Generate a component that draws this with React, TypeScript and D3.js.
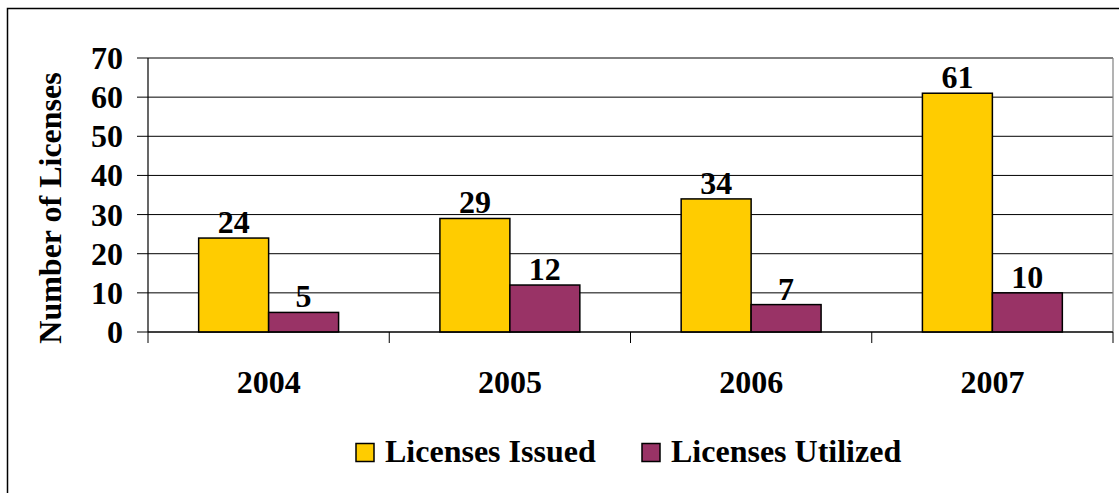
import React from "react";
import * as d3 from "d3";

const categories = ["2004", "2005", "2006", "2007"];
const seriesNames = ["Licenses Issued", "Licenses Utilized"];
const issued = [24, 29, 34, 61];
const utilized = [5, 12, 7, 10];
const yTicks = [0, 10, 20, 30, 40, 50, 60, 70];
const colors = ["#FFCC00", "#993366"];

export default function App() {
  const W = 1119;
  const H = 493;
  const left = 148, right = 1113, top = 58, bottom = 332;
  const font = "'Liberation Serif', 'Times New Roman', serif";
  const fs = 32;

  const x = d3.scaleBand<string>().domain(categories).range([left, right]).paddingInner(0).paddingOuter(0);
  const y = d3.scaleLinear().domain([0, 70]).range([bottom, top]);
  const groupW = x.bandwidth() * 0.58;
  const x1 = d3.scaleBand<string>().domain(seriesNames).range([0, groupW]);
  const values = [issued, utilized];

  const boundaries = categories.map((c) => x(c) as number).concat([right]);

  return (
    <svg width={W} height={H} style={{ position: "absolute", left: 0, top: 0, background: "#fff" }}>
      <rect x={0} y={0} width={W} height={H} fill="#fff" />
      <rect x={7.5} y={8.5} width={1130} height={500} fill="none" stroke="#000" strokeWidth={1.5} />
      {yTicks.map((t) => (
        <line key={"g" + t} x1={left} x2={right} y1={y(t)} y2={y(t)} stroke="#000" strokeWidth={1} />
      ))}
      <line x1={left} x2={right} y1={top} y2={top} stroke="#808080" strokeWidth={1.2} />
      <line x1={right} x2={right} y1={top} y2={bottom} stroke="#808080" strokeWidth={1.2} />
      {yTicks.map((t) => (
        <line key={"t" + t} x1={137} x2={left} y1={y(t)} y2={y(t)} stroke="#000" strokeWidth={1} />
      ))}
      {boundaries.map((b, i) => (
        <line key={"xt" + i} x1={b} x2={b} y1={bottom} y2={bottom + 11} stroke="#000" strokeWidth={1} />
      ))}
      {categories.map((c, ci) =>
        seriesNames.map((s, si) => {
          const bx = (x(c) as number) + (x.bandwidth() - groupW) / 2 + (x1(s) as number);
          const v = values[si][ci];
          return (
            <g key={c + s}>
              <rect x={bx} y={y(v)} width={x1.bandwidth()} height={bottom - y(v)} fill={colors[si]} stroke="#000" strokeWidth={1.5} />
              <text x={bx + x1.bandwidth() / 2} y={y(v) - 5} textAnchor="middle" fontFamily={font} fontWeight="bold" fontSize={fs}>
                {v}
              </text>
            </g>
          );
        })
      )}
      <line x1={left} x2={left} y1={top} y2={bottom} stroke="#000" strokeWidth={1.2} />
      <line x1={left} x2={right} y1={bottom} y2={bottom} stroke="#000" strokeWidth={1.2} />
      {yTicks.map((t) => (
        <text key={"yl" + t} x={123} y={y(t) + 11} textAnchor="end" fontFamily={font} fontWeight="bold" fontSize={fs}>
          {t}
        </text>
      ))}
      {categories.map((c) => (
        <text key={"xl" + c} x={(x(c) as number) + x.bandwidth() / 2} y={393} textAnchor="middle" fontFamily={font} fontWeight="bold" fontSize={fs}>
          {c}
        </text>
      ))}
      <text transform="translate(61,208) rotate(-90)" textAnchor="middle" fontFamily={font} fontWeight="bold" fontSize={fs}>
        Number of Licenses
      </text>
      {seriesNames.map((s, i) => {
        const sx = i === 0 ? 356 : 642;
        return (
          <g key={"lg" + s}>
            <rect x={sx} y={443.5} width={18} height={18} fill={colors[i]} stroke="#000" strokeWidth={1.5} />
            <text x={sx + 29} y={462} fontFamily={font} fontWeight="bold" fontSize={fs} letterSpacing={0}>
              {s}
            </text>
          </g>
        );
      })}
    </svg>
  );
}
